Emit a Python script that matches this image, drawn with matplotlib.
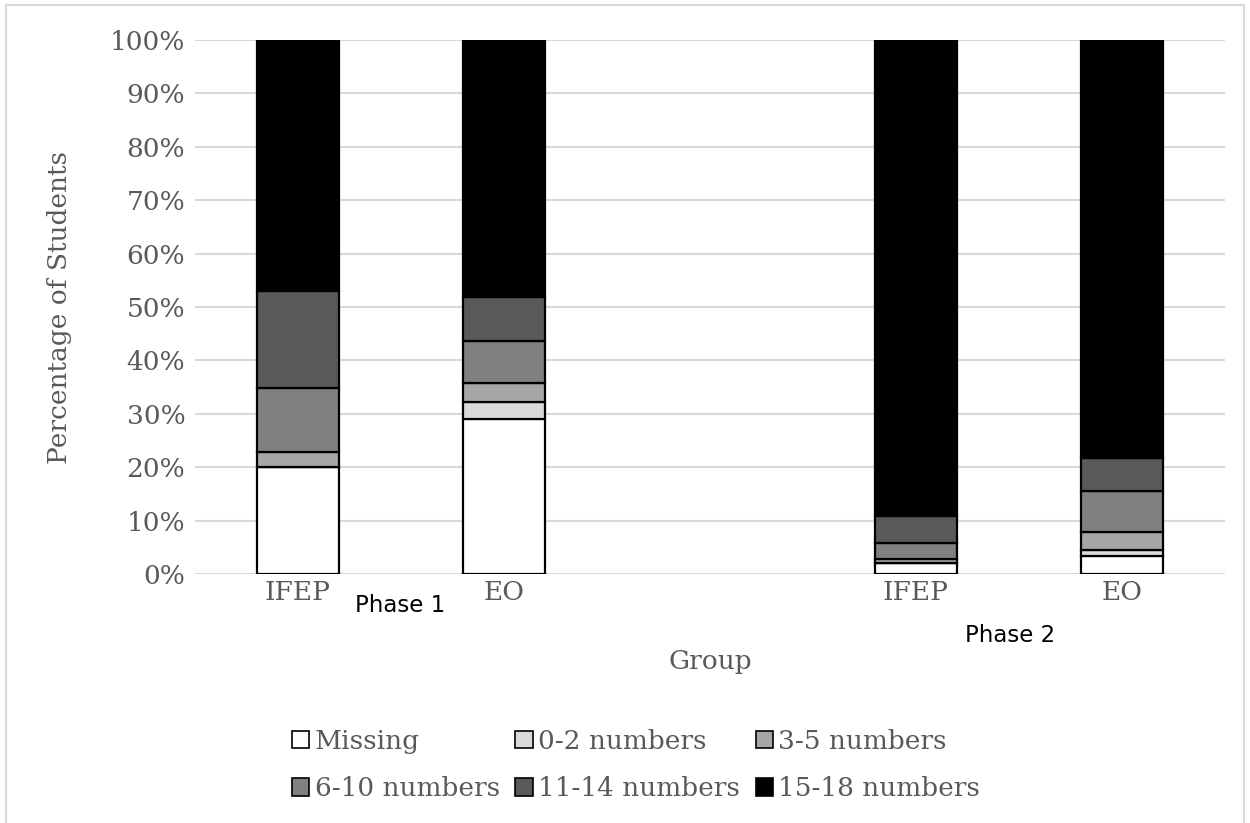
import matplotlib
matplotlib.use("Agg")
import matplotlib.pyplot as plt
from matplotlib.lines import Line2D
from matplotlib.patches import Patch
import numpy as np

# data (percent of students)
groups = ["IFEP", "EO", "", "IFEP", "EO"]
series = ["Missing", "0-2 numbers", "3-5 numbers",
          "6-10 numbers", "11-14 numbers", "15-18 numbers"]
missing = [20.1, 29.0, 0, 2.0, 3.4]
n_0_2 = [0.0, 3.3, 0, 0.0, 1.1]
n_3_5 = [2.75, 3.4, 0, 0.8, 3.3]
n_6_10 = [12.05, 7.9, 0, 2.95, 7.8]
n_11_14 = [18.15, 8.2, 0, 5.15, 6.05]
n_15_18 = [46.95, 48.2, 0, 89.1, 78.35]
phases = ["Phase 1", "Phase 2"]

colors = ["#FFFFFF", "#D9D9D9", "#A6A6A6", "#808080", "#595959", "#000000"]
grey = "#595959"
serif = "DejaVu Serif"
fs = 19

fig = plt.figure(figsize=(12.5, 8.23), dpi=100)
W, H = 1250, 823
ax = fig.add_axes([195 / W, 1 - 574 / H, 1030 / W, 534 / H])

x = np.arange(len(groups))
present = np.array([g != "" for g in groups])
bottom = np.zeros(len(groups))
for name, vals, c in zip(series, [missing, n_0_2, n_3_5, n_6_10, n_11_14, n_15_18], colors):
    vals = np.array(vals, dtype=float)
    ax.bar(x[present], vals[present], 0.4, bottom=bottom[present], color=c,
           edgecolor="black", linewidth=1.6, zorder=3)
    bottom += vals

ax.set_xlim(-0.5, len(groups) - 0.5)
ax.set_ylim(0, 100)
ax.set_yticks(np.arange(0, 101, 10))
ax.set_yticklabels([f"{v}%" for v in range(0, 101, 10)])
ax.set_xticks(x[present])
ax.set_xticklabels([g for g in groups if g])
ax.tick_params(length=0, labelsize=fs, labelcolor=grey)
ax.tick_params(axis="x", pad=4)
ax.tick_params(axis="y", pad=7)
for lab in ax.get_xticklabels() + ax.get_yticklabels():
    lab.set_family(serif)
ax.grid(axis="y", color="#D9D9D9", linewidth=1.5, zorder=0)
for s in ax.spines.values():
    s.set_visible(False)
ax.set_axisbelow(True)

fig.text(60 / W, 1 - 307 / H, "Percentage of Students", rotation=90, ha="center",
         va="center", fontsize=fs, color=grey, family=serif)
fig.text(710 / W, 1 - 662 / H, "Group", ha="center", va="center",
         fontsize=fs, color=grey, family=serif)
fig.text(400 / W, 1 - 606 / H, phases[0], ha="center", va="center",
         fontsize=16.5, color="black", family="Liberation Sans Narrow")
fig.text(1010 / W, 1 - 635 / H, phases[1], ha="center", va="center",
         fontsize=16.5, color="black", family="Liberation Sans Narrow")

# legend fills by column, so reorder to read row by row like the reference
order = [0, 3, 1, 4, 2, 5]
handles = [Patch(facecolor=colors[i], edgecolor="black", linewidth=1.2) for i in order]
labels = [series[i] for i in order]
leg = fig.legend(handles, labels, ncol=3, loc="center", bbox_to_anchor=(636 / W, 1 - 765 / H),
                 frameon=False, prop={"family": serif, "size": fs},
                 handlelength=0.65, handleheight=0.65, handletextpad=0.2,
                 columnspacing=0.6, labelspacing=0.85)
for t in leg.get_texts():
    t.set_color(grey)

# outer chart border
border = dict(color="#D9D9D9", linewidth=1.5, transform=fig.transFigure)
fig.add_artist(Line2D([6 / W, 6 / W], [0, 1 - 5 / H], **border))
fig.add_artist(Line2D([6 / W, 1244 / W], [1 - 5 / H, 1 - 5 / H], **border))
fig.add_artist(Line2D([1244 / W, 1244 / W], [0, 1 - 5 / H], **border))

fig.savefig("out.png", dpi=100)
